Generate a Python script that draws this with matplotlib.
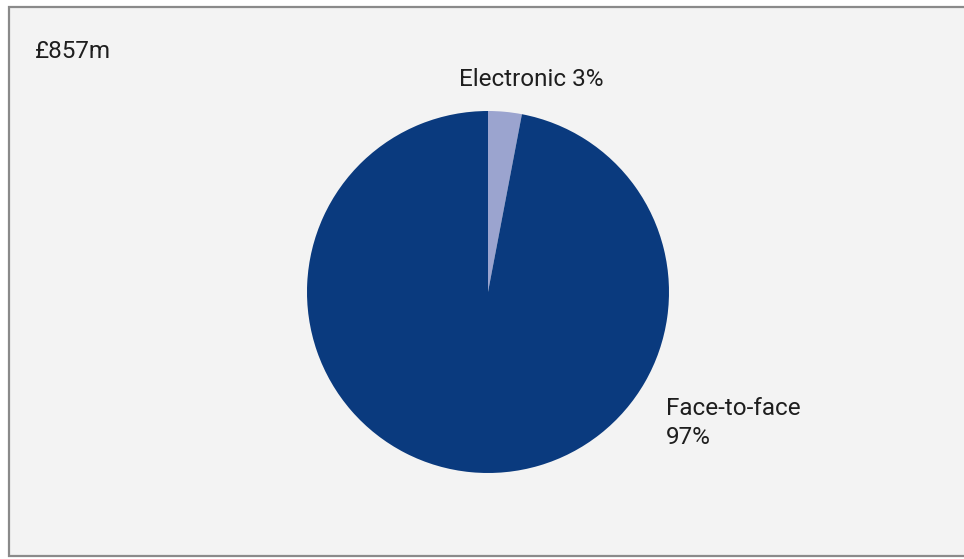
import matplotlib.pyplot as plt
from matplotlib.patches import Rectangle

labels = ["Electronic", "Face-to-face"]
shares = [3, 97]
colors = ["#9ba4cf", "#0a3a7e"]
total_label = "£857m"

W, H = 964, 559
fig = plt.figure(figsize=(W / 100, H / 100), dpi=100)
fig.patch.set_facecolor("white")

# panel with grey border
fig.patches.append(Rectangle((9 / W, 3 / H), 1.2, 1 - 10 / H, transform=fig.transFigure,
                             facecolor="#f3f3f3", edgecolor="#8a8a8a", linewidth=1.6,
                             zorder=-5))

cx, cy, r = 488, 292, 181
ax = fig.add_axes([(cx - r) / W, (H - cy - r) / H, 2 * r / W, 2 * r / H])
ax.pie(shares, colors=colors, startangle=90, counterclock=False,
       wedgeprops=dict(linewidth=0))
ax.set_xlim(-1, 1)
ax.set_ylim(-1, 1)
ax.set_aspect("equal")
ax.axis("off")

font = ["Roboto", "DejaVu Sans"]
fs = 17.5
fig.text(35 / W, 1 - 52 / H, total_label, fontsize=fs, family=font, va="center",
         color="#1e1e1e")
fig.text(459 / W, 1 - 80 / H, f"{labels[0]} {shares[0]}%", fontsize=fs, family=font,
         va="center", color="#1e1e1e")
fig.text(666 / W, 1 - 423 / H, f"{labels[1]}\n{shares[1]}%", fontsize=fs, family=font,
         va="center", color="#1e1e1e", linespacing=1.35)

fig.savefig("out.png", dpi=100, facecolor=fig.get_facecolor())
